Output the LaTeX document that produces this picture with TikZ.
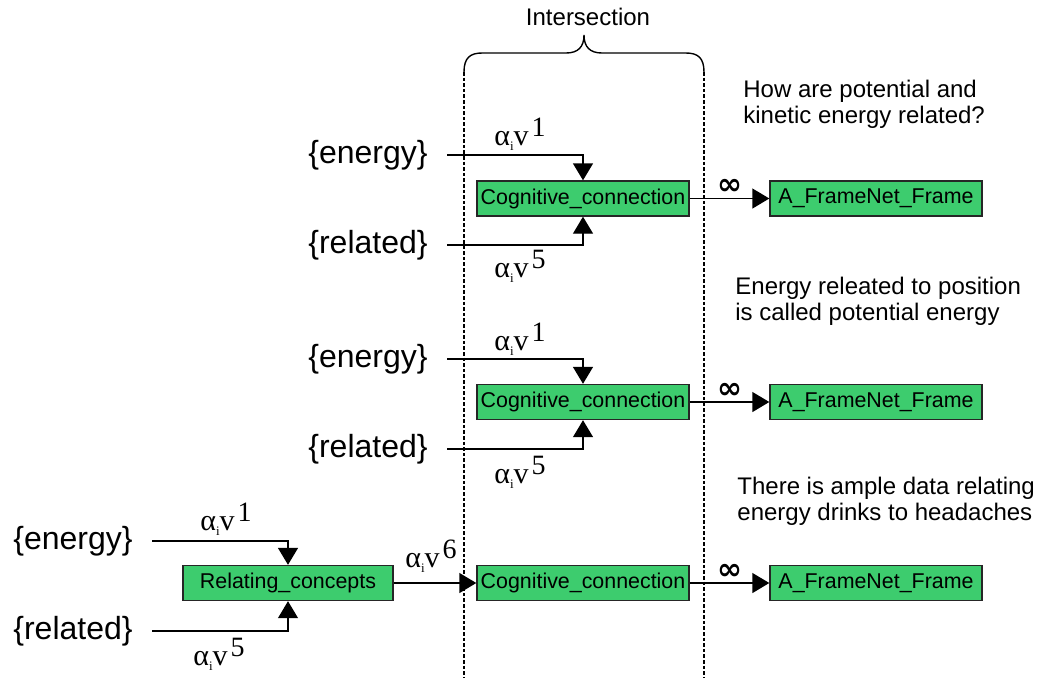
\documentclass[tikz,border=0pt]{standalone}
\usepackage{fontspec}
\setmainfont{Liberation Sans}
\newfontfamily\lserif{Liberation Serif}
\newfontfamily\dvsans{DejaVu Sans}
\usetikzlibrary{arrows.meta}
\definecolor{conceptgreen}{RGB}{61,204,110}
\newcommand{\wt}[1]{{\lserif\fontsize{15}{15}\selectfont α\raisebox{-2.5pt}{\fontsize{6.5}{6.5}\selectfont i}v\hspace{1.5pt}\raisebox{4.5pt}{\fontsize{14}{14}\selectfont #1}}}

\begin{document}
\begin{tikzpicture}[x=0.5pt,y=-0.5pt,
  concept/.style={draw=black!85,line width=0.7pt,fill=conceptgreen,minimum width=106pt,minimum height=17.5pt,inner sep=0pt,font=\fontsize{10.7}{10.7}\selectfont},
  word/.style={anchor=east,inner xsep=9.5pt,inner ysep=0pt,font=\fontsize{16}{16}\selectfont},
  weight/.style={anchor=base west,inner sep=0pt},
  note/.style={anchor=west,align=left,inner sep=0pt,font=\fontsize{12}{13}\selectfont},
  flow/.style={line width=0.7pt,-{Triangle[length=8.5pt,width=10pt]}},
  inf/.style={above=0pt,inner sep=1.5pt,font=\dvsans\bfseries\fontsize{15}{15}\selectfont},
  limit/.style={line width=0.6pt,dash pattern=on 1.8pt off 1pt}]
  \useasboundingbox (0,0) rectangle (1050,677);

  % intersection band
  \draw[line width=0.7pt] (464,72) .. controls (464,58) and (470,53) .. (482,53) -- (566,53)
    .. controls (578,53) and (584,47) .. (584,35) .. controls (584,47) and (590,53) .. (602,53)
    -- (686,53) .. controls (698,53) and (704,58) .. (704,72);
  \node (isect) at (588,17) {\fontsize{12}{12}\selectfont Intersection};
  \draw[limit] (464,72) -- (464,677);
  \draw[limit] (704,72) -- (704,677);

  % first sentence
  \node[note] (q1) at (743,104.5) {How are potential and\\kinetic energy related?};
  \node[word] (en1) at (447,155) {\{energy\}};
  \node[word] (re1) at (447,245) {\{related\}};
  \node[concept] (cc1) at (583,198.5) {Cognitive\_connection};
  \node[concept] (fr1) at (876,198.5) {A\_FrameNet\_Frame};
  \node[weight] (w11) at (494,145) {\wt{1}};
  \node[weight] (w15) at (494,277) {\wt{5}};
  \draw[flow] (en1.east) -| (cc1.north);
  \draw[flow] (re1.east) -| (cc1.south);
  \draw[flow] (cc1) -- node[inf] {∞} (fr1);

  % second sentence
  \node[note] (q2) at (735,301.5) {Energy releated to position\\is called potential energy};
  \node[word] (en2) at (447,359) {\{energy\}};
  \node[word] (re2) at (447,449) {\{related\}};
  \node[concept] (cc2) at (583,402) {Cognitive\_connection};
  \node[concept] (fr2) at (876,402) {A\_FrameNet\_Frame};
  \node[weight] (w21) at (494,350) {\wt{1}};
  \node[weight] (w25) at (494,483) {\wt{5}};
  \draw[flow] (en2.east) -| (cc2.north);
  \draw[flow] (re2.east) -| (cc2.south);
  \draw[flow] (cc2) -- node[inf] {∞} (fr2);

  % third sentence
  \node[note] (q3) at (737,501.5) {There is ample data relating\\energy drinks to headaches};
  \node[word] (en3) at (152,541) {\{energy\}};
  \node[word] (re3) at (152,631) {\{related\}};
  \node[concept,minimum width=105pt] (rc) at (288,583) {Relating\_concepts};
  \node[concept] (cc3) at (583,583) {Cognitive\_connection};
  \node[concept] (fr3) at (876,583) {A\_FrameNet\_Frame};
  \node[weight] (w31) at (200,530) {\wt{1}};
  \node[weight] (w35) at (193,665) {\wt{5}};
  \node[weight] (w36) at (405,567) {\wt{6}};
  \draw[flow] (en3.east) -| (rc.north);
  \draw[flow] (re3.east) -| (rc.south);
  \draw[flow] (rc) -- (cc3);
  \draw[flow] (cc3) -- node[inf] {∞} (fr3);
\end{tikzpicture}
\end{document}
